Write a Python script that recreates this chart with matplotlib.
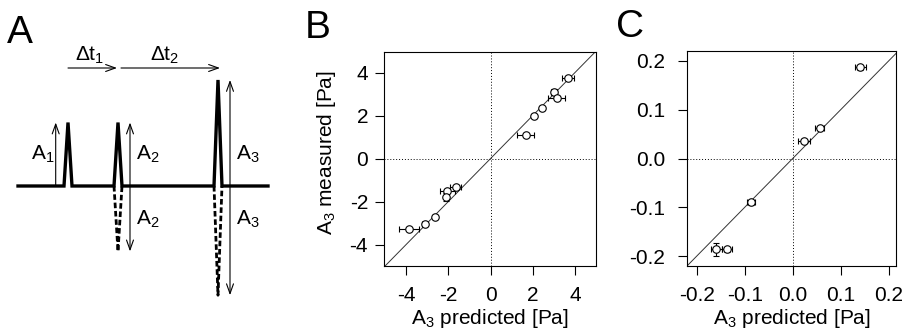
import matplotlib
matplotlib.use("Agg")
import matplotlib.pyplot as plt
import numpy as np

plt.rcParams['font.family'] = ['Liberation Sans', 'DejaVu Sans']
plt.rcParams['mathtext.fontset'] = 'custom'
plt.rcParams['mathtext.rm'] = 'Liberation Sans'
plt.rcParams['mathtext.it'] = 'Liberation Sans:italic'

# ---------------- data ----------------
# Panel B
b_pred = [3.68, 3.00, 3.13, 2.45, 2.04, 1.66, -1.64, -2.04, -2.09, -2.63, -3.11, -3.87]
b_meas = [3.75, 3.10, 2.84, 2.34, 1.97, 1.12, -1.34, -1.52, -1.78, -2.71, -3.03, -3.26]
b_xerr = [0.30, 0.15, 0.40, 0.10, 0.08, 0.41, 0.26, 0.36, 0.08, 0.10, 0.12, 0.46]
b_yerr = [0.06, 0.12, 0.06, 0.05, 0.05, 0.06, 0.06, 0.06, 0.18, 0.05, 0.05, 0.05]
b_ticks = [-4, -2, 0, 2, 4]
b_ticklabels = ['-4', '-2', '0', '2', '4']

# Panel C
c_pred = [0.141, 0.056, 0.024, -0.087, -0.159, -0.137]
c_meas = [0.187, 0.063, 0.036, -0.090, -0.186, -0.186]
c_xerr = [0.011, 0.010, 0.013, 0.009, 0.011, 0.010]
c_yerr = [0.005, 0.004, 0.004, 0.005, 0.014, 0.005]
c_ticks = [-0.2, -0.1, 0.0, 0.1, 0.2]
c_ticklabels = ['-0.2', '-0.1', '0.0', '0.1', '0.2']

# Panel A schematic: pulse times (px) and amplitudes (relative)
pulse_t = [68, 118, 218]
pulse_up = [1.0, 1.0, 1.67]
pulse_down = [None, -1.03, -1.72]
pulse_labels = ['A$_\\mathregular{1}$', 'A$_\\mathregular{2}$', 'A$_\\mathregular{3}$']

W, H = 906, 335
fig = plt.figure(figsize=(W / 100, H / 100), dpi=100)

FS = 15


def px_axes(l, t, r, b):
    return [l / W, 1 - b / H, (r - l) / W, (b - t) / H]


# ---------------- Panel A ----------------
axA = fig.add_axes(px_axes(0, 0, 300, 335))
axA.set_xlim(0, 300)
sc = 63.5
axA.set_ylim((186 - 335) / sc, 186 / sc)
axA.axis('off')

hw = 4
xs = [18]
ys = [0]
for t, a in zip(pulse_t, pulse_up):
    xs += [t - hw, t, t + hw]
    ys += [0, a, 0]
xs.append(268)
ys.append(0)
axA.plot(xs, ys, color='black', lw=2.4, solid_joinstyle='miter')
for t, d in zip(pulse_t, pulse_down):
    if d is None:
        continue
    axA.plot([t - hw, t, t + hw], [0, d, 0], color='black', lw=2.0,
             ls=(0, (2, 1)))

arrow_kw = dict(arrowstyle='->,head_length=0.7,head_width=0.25', color='black', lw=0.8,
                shrinkA=0, shrinkB=0)
arrow2_kw = dict(arrowstyle='<->,head_length=0.7,head_width=0.25', color='black', lw=0.8,
                 shrinkA=0, shrinkB=0)
# amplitude arrows
axA.annotate('', xy=(55.7, pulse_up[0]), xytext=(55.7, 0), arrowprops=arrow_kw)
axA.annotate('', xy=(130, pulse_up[1]), xytext=(130, pulse_down[1] * 1.0),
             arrowprops=arrow2_kw)
axA.annotate('', xy=(230, pulse_up[2]), xytext=(230, pulse_down[2]),
             arrowprops=arrow2_kw)
# time arrows
ydt = (186 - 68) / sc
axA.annotate('', xy=(117, ydt), xytext=(68, ydt), arrowprops=arrow_kw)
axA.annotate('', xy=(220, ydt), xytext=(121, ydt), arrowprops=arrow_kw)

axA.text(31, 0.5, pulse_labels[0], fontsize=FS, ha='left', va='center')
axA.text(136, 0.5, pulse_labels[1], fontsize=FS, ha='left', va='center')
axA.text(136, -0.52, pulse_labels[1], fontsize=FS, ha='left', va='center')
axA.text(236, 0.5, pulse_labels[2], fontsize=FS, ha='left', va='center')
axA.text(236, -0.52, pulse_labels[2], fontsize=FS, ha='left', va='center')
axA.text(75, (186 - 55) / sc, '$\\mathregular{\\Delta t_1}$', fontsize=FS, ha='left', va='center')
axA.text(150, (186 - 55) / sc, '$\\mathregular{\\Delta t_2}$', fontsize=FS, ha='left', va='center')


# ---------------- scatter panels ----------------
def scatter_panel(ax, x, y, xe, ye, lim_x, lim_y, ticks, labels, ypad):
    ax.set_xlim(*lim_x)
    ax.set_ylim(*lim_y)
    ax.plot([min(lim_x[0], lim_y[0]), max(lim_x[1], lim_y[1])],
            [min(lim_x[0], lim_y[0]), max(lim_x[1], lim_y[1])],
            color='#333333', lw=0.7, zorder=1)
    ax.axhline(0, color='black', lw=0.7, ls=(0, (1, 2)), zorder=1)
    ax.axvline(0, color='black', lw=0.7, ls=(0, (1, 2)), zorder=1)
    ax.errorbar(x, y, xerr=xe, yerr=ye, fmt='o', ms=5.4, mfc='white', mec='black',
                mew=0.8, ecolor='black', elinewidth=0.8, capsize=2.2, capthick=0.8,
                zorder=3)
    ax.set_xticks(ticks)
    ax.set_xticklabels(labels)
    ax.set_yticks(ticks)
    ax.set_yticklabels(labels)
    ax.tick_params(direction='out', length=6.5, width=0.8, labelsize=FS,
                   color='black')
    ax.tick_params(axis='x', pad=8)
    ax.tick_params(axis='y', pad=ypad)
    for s in ax.spines.values():
        s.set_linewidth(0.8)
    ax.set_xlabel('A$_\\mathregular{3}$ predicted [Pa]', fontsize=FS, labelpad=1)


axB = fig.add_axes(px_axes(384, 52, 596, 266))
scatter_panel(axB, b_pred, b_meas, b_xerr, b_yerr, (-5.05, 5.0), (-5.0, 4.96),
              b_ticks, b_ticklabels, 5)
axB.set_ylabel('A$_\\mathregular{3}$ measured [Pa]', fontsize=FS)
axB.yaxis.set_label_coords(-0.215, 0.53)

axC = fig.add_axes(px_axes(687, 51, 896, 266))
scatter_panel(axC, c_pred, c_meas, c_xerr, c_yerr, (-0.22, 0.215), (-0.22, 0.22),
              c_ticks, c_ticklabels, 9)

# panel letters
fig.text(7 / W, 1 - 43 / H, 'A', fontsize=28, ha='left', va='baseline')
fig.text(305 / W, 1 - 38 / H, 'B', fontsize=28, ha='left', va='baseline')
fig.text(616 / W, 1 - 37 / H, 'C', fontsize=28, ha='left', va='baseline')

fig.savefig('out.png', dpi=100)
